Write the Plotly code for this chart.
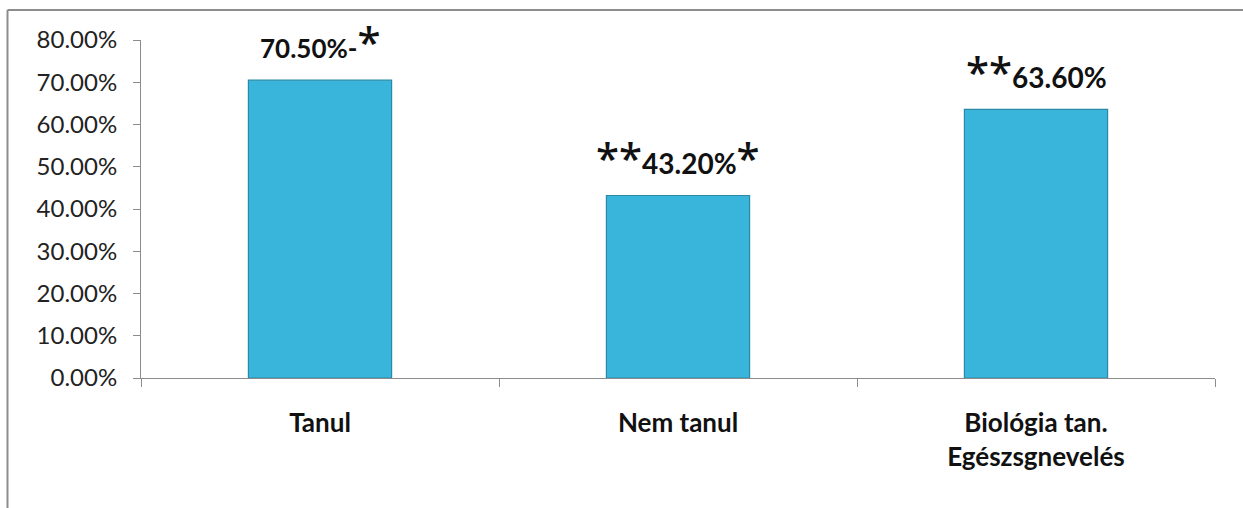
import plotly.graph_objects as go

# Categories and share values
categories = ["Tanul", "Nem tanul", "Biológia tan.<br>Egészsgnevelés"]
values = [0.705, 0.432, 0.636]

# Significance markers placed around each value label
label_prefix = ["", "**", "**"]
label_suffix = ["-*", "*", ""]

# Y axis tick values
y_ticks = [0.0, 0.1, 0.2, 0.3, 0.4, 0.5, 0.6, 0.7, 0.8]
y_tick_text = [f"{v * 100:.2f}%" for v in y_ticks]

FONT = "Lato"
STAR_FONT = "Noto Sans"
BAR_FILL = "#39b4da"
BAR_EDGE = "#2a8aa6"
AXIS_GREY = "#8c8c8c"

fig = go.Figure()
fig.add_trace(
    go.Bar(
        x=categories,
        y=values,
        marker=dict(color=BAR_FILL, line=dict(color=BAR_EDGE, width=1.2)),
        hoverinfo="skip",
    )
)


def star(s, size):
    if not s:
        return ""
    return (f"<span style='font-family:{STAR_FONT};font-size:{size}px;"
            f"font-weight:500'>{s}</span>")


# Value labels with markers
num_sizes = [26, 28, 28]
star_sizes = [42, 42, 42]
shifts = [8, 7, 7]
for cat, val, pre, suf, ns, ss, sh in zip(categories, values, label_prefix, label_suffix,
                                          num_sizes, star_sizes, shifts):
    if suf.startswith("-"):
        suffix_html = "<b>-</b>" + star(suf[1:], ss)
    else:
        suffix_html = star(suf, ss)
    text = star(pre, ss) + f"<b>{val * 100:.2f}%</b>" + suffix_html
    fig.add_annotation(
        x=cat,
        y=val,
        xref="x",
        yref="y",
        text=text,
        showarrow=False,
        yanchor="bottom",
        yshift=sh,
        font=dict(family=FONT, size=ns, color="#111111"),
    )

# Chart frame (top and left edges)
fig.add_shape(type="line", xref="paper", yref="paper",
              x0=-0.1243, x1=1.03, y0=1.0888, y1=1.0888,
              line=dict(color=AXIS_GREY, width=2))
fig.add_shape(type="line", xref="paper", yref="paper",
              x0=-0.1243, x1=-0.1243, y0=1.0888, y1=-0.40,
              line=dict(color=AXIS_GREY, width=2))

fig.update_layout(
    width=1243,
    height=508,
    margin=dict(l=141, r=28, t=40, b=130),
    paper_bgcolor="white",
    plot_bgcolor="white",
    showlegend=False,
    bargap=0.6,
    font=dict(family=FONT, color="#222222"),
)
fig.update_yaxes(
    range=[0, 0.8],
    tickvals=y_ticks,
    ticktext=y_tick_text,
    showgrid=False,
    zeroline=False,
    showline=True,
    linecolor=AXIS_GREY,
    linewidth=1,
    ticks="outside",
    ticklen=7,
    tickcolor=AXIS_GREY,
    ticklabelstandoff=11,
    tickfont=dict(family=FONT, size=24, color="#222222"),
)
fig.update_xaxes(
    showgrid=False,
    showline=True,
    linecolor=AXIS_GREY,
    linewidth=1,
    ticks="outside",
    tickson="boundaries",
    ticklen=8,
    tickcolor=AXIS_GREY,
    ticklabelstandoff=22,
    tickfont=dict(family=FONT, size=26, color="#111111", weight="bold"),
)

fig.write_html("out.html")
